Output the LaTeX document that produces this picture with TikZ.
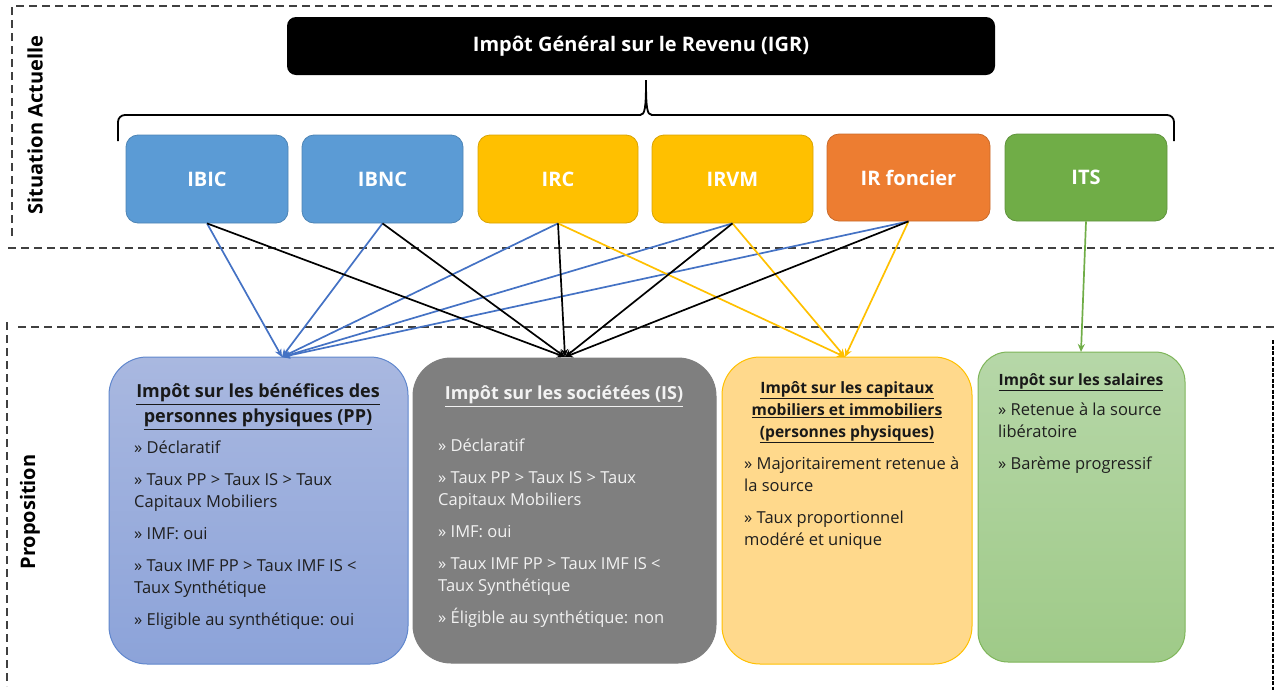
\documentclass[tikz,border=0pt]{standalone}
\usepackage{fontspec}
\setmainfont{Open Sans}
\usetikzlibrary{arrows.meta}
\definecolor{bl}{HTML}{5B9BD5}
\definecolor{gd}{HTML}{FFC000}
\definecolor{og}{HTML}{ED7D31}
\definecolor{gr}{HTML}{70AD47}
\definecolor{ab}{HTML}{4472C4}
\definecolor{pptop}{HTML}{A9B8E0}
\definecolor{ppbot}{HTML}{8CA3D9}
\definecolor{cap}{HTML}{FFD98C}
\definecolor{saltop}{HTML}{B6D7A8}
\definecolor{salbot}{HTML}{9FCA88}
\definecolor{isg}{HTML}{7F7F7F}
\definecolor{dashc}{HTML}{404040}
\begin{document}
\begin{tikzpicture}[x=1pt,y=-1pt,
  frame/.style={dashc, line width=1.2pt, dash pattern=on 8pt off 5pt},
  topbox/.style={rounded corners=12pt, minimum width=162pt, minimum height=88pt, inner sep=0pt,
     text=white, font=\bfseries\fontsize{20}{24}\selectfont, fill=#1, draw=#1!85!black, line width=0.8pt},
  bigbox/.style={rounded corners=38pt, inner sep=0pt, line width=1pt},
  head/.style={font=\bfseries\fontsize{18}{25}\selectfont, align=center, anchor=north, inner sep=0pt},
  body/.style={font=\fontsize{16.5}{22}\selectfont, align=left, anchor=north west, inner sep=0pt},
  conn/.style={line width=1.7pt, -{Stealth[length=8pt,width=7pt]}},
  side/.style={rotate=90, font=\bfseries\fontsize{20}{24}\selectfont, inner sep=0pt}
]
\useasboundingbox (0,0) rectangle (1274,694);
% frames
\draw[frame] (12,236) -- (12,6) -- (1274,6);
\draw[frame] (8,248) -- (1274,248);
\draw[frame] (18,327) -- (1274,327);
\draw[frame] (7,322) -- (7,686);
\draw[black, line width=1.6pt, dash pattern=on 4pt off 1.5pt] (1273,340) -- (1273,690);
% side labels
\node[side] (lsit) at (35,125) {Situation Actuelle};
\node[side] (lprop) at (30,512) {Proposition};
% title
\node[fill=black, rounded corners=9pt, minimum width=708pt, minimum height=58pt, inner sep=0pt,
  text=white, font=\bfseries\fontsize{20}{24}\selectfont] (igr) at (641,46) {Impôt Général sur le Revenu (IGR)};
% brace
\draw[line width=1.8pt, rounded corners=7pt] (118,141) -- (118,115) -- (641,115);
\draw[line width=1.8pt] (640,115) .. controls (645,115) and (646,108) .. (646,80)
   .. controls (646,108) and (647,115) .. (652,115);
\draw[line width=1.8pt, rounded corners=7pt] (651,115) -- (1174,115) -- (1174,141);
% top boxes
\node[topbox=bl] (ibic) at (207,179) {IBIC};
\node[topbox=bl, minimum width=161pt] (ibnc) at (382.5,179) {IBNC};
\node[topbox=gd, minimum width=160pt] (irc) at (558,179) {IRC};
\node[topbox=gd, minimum width=161pt] (irvm) at (732.5,179) {IRVM};
\node[topbox=og, minimum width=163pt, minimum height=87pt] (irf) at (908.5,177.5) {IR foncier};
\node[topbox=gr, minimum height=87pt] (its) at (1086,177.5) {ITS};
% bottom boxes
\node[bigbox, top color=pptop, bottom color=ppbot, draw=ab!85!white, minimum width=299pt, minimum height=307pt] (pp) at (258.5,510.5) {};
\node[bigbox, fill=isg, draw=isg, minimum width=303pt, minimum height=305pt] (is) at (564.5,510.5) {};
\node[bigbox, fill=cap, draw=gd, minimum width=250pt, minimum height=307pt] (cp) at (847,510.5) {};
\node[bigbox, rounded corners=30pt, top color=saltop, bottom color=salbot, draw=gr!90!white, minimum width=207pt, minimum height=310pt] (sal) at (1081.5,507) {};
% targets
\coordinate (ppin) at (282,357);
\coordinate (isin) at (565,357);
\coordinate (cpin) at (845,357);
\coordinate (salin) at (1081,352);
% arrows
\foreach \s in {ibic,ibnc,irc,irvm,irf} \draw[conn, ab] (\s.south) -- (ppin);
\foreach \s in {irc,irvm,irf} \draw[conn, gd] (\s.south) -- (cpin);
\foreach \s in {ibic,ibnc,irc,irvm,irf} \draw[conn, black] (\s.south) -- (isin);
\draw[conn, gr] (its.south) -- (salin);
% texts PP
\node[head, text=black!90] (pph) at (258,384) {\underline{Impôt sur les bénéfices des}\\\underline{personnes physiques (PP)}};
\node[body, text=black!88] (ppb) at (134,441) {» Déclaratif\\[10pt]» Taux PP > Taux IS > Taux\\Capitaux Mobiliers\\[10pt]» IMF: oui\\[10pt]» Taux IMF PP > Taux IMF IS <\\Taux Synthétique\\[10pt]» Eligible au synthétique: oui};
% texts IS
\node[head, text=white!95!black] (ish) at (564,386) {\underline{Impôt sur les sociétées (IS)}};
\node[body, text=white!95!black] (isb) at (438,439) {» Déclaratif\\[10pt]» Taux PP > Taux IS > Taux\\Capitaux Mobiliers\\[10pt]» IMF: oui\\[10pt]» Taux IMF PP > Taux IMF IS <\\Taux Synthétique\\[10pt]» Éligible au synthétique: non};
% texts cap
\node[head, font=\bfseries\fontsize{15.6}{22}\selectfont, text=black!90] (cph) at (847,381) {\underline{Impôt sur les capitaux}\\\underline{mobiliers et immobiliers}\\\underline{(personnes physiques)}};
\node[body, text=black!88] (cpb) at (744,457) {» Majoritairement retenue à\\la source\\[10pt]» Taux proportionnel\\modéré et unique};
% texts sal
\node[head, font=\bfseries\fontsize{15.5}{22}\selectfont, text=black!90] (salh) at (1081,373) {\underline{Impôt sur les salaires}};
\node[body, text=black!88] (salb) at (998,403) {» Retenue à la source\\libératoire\\[10pt]» Barème progressif};
\end{tikzpicture}
\end{document}
